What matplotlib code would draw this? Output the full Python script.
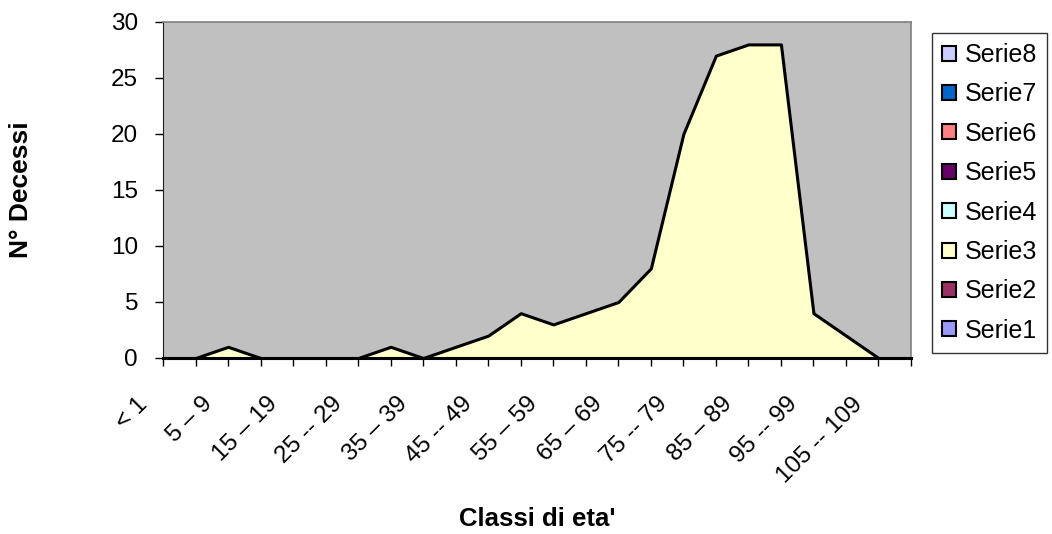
import matplotlib
matplotlib.use("Agg")
import matplotlib.pyplot as plt
import matplotlib.transforms as mtransforms
from matplotlib.patches import Patch
import numpy as np

# age classes (one point per class) and number of deaths for Serie3
classi = ['< 1', '1 -- 4', '5 \u2013 9', '10 -- 14', '15 \u2013 19', '20 -- 24',
          '25 -- 29', '30 -- 34', '35 \u2013 39', '40 -- 44', '45 -- 49',
          '50 -- 54', '55 \u2013 59', '60 -- 64', '65 \u2013 69', '70 -- 74',
          '75 -- 79', '80 -- 84', '85 \u2013 89', '90 -- 94', '95 -- 99',
          '100 -- 104', '105 -- 109', '110 +']
serie3 = [0, 0, 1, 0, 0, 0, 0, 1, 0, 1, 2, 4, 3, 4, 5, 8, 20, 27, 28, 28,
          4, 2, 0, 0]

serie_names = ['Serie8', 'Serie7', 'Serie6', 'Serie5', 'Serie4', 'Serie3',
               'Serie2', 'Serie1']
serie_colors = ['#CCCCFF', '#0066CC', '#FF8080', '#660066', '#CCFFFF',
                '#FFFFCC', '#993366', '#9999FF']

plt.rcParams['font.family'] = ['Liberation Sans', 'DejaVu Sans']

fig = plt.figure(figsize=(10.52, 5.34), dpi=100)
ax = fig.add_axes([163 / 1052, 1 - 358 / 534, 748 / 1052, 336 / 534])
ax.set_facecolor('#C0C0C0')

x = np.arange(len(classi))
ax.fill_between(x, 0, serie3, facecolor='#FFFFCC', edgecolor='black',
                linewidth=2.2, clip_on=False, zorder=3)

ax.set_xlim(0, len(classi) - 1)
ax.set_ylim(0, 30)
ax.set_yticks(range(0, 31, 5))
ax.set_xticks(x)
# only every other class gets a label
ax.set_xticklabels([lab if i % 2 == 0 else '' for i, lab in enumerate(classi)],
                   rotation=45, ha='right', va='center',
                   rotation_mode='anchor')

ax.tick_params(axis='both', direction='out', length=6, width=1,
               color='black', labelsize=17.5)
ax.tick_params(axis='x', pad=4)
ax.tick_params(axis='y', pad=12)

# move the rotated labels so their ends sit below-left of each tick
shift = mtransforms.ScaledTranslation(-19 / 100, -29 / 100, fig.dpi_scale_trans)
for lab in ax.get_xticklabels():
    lab.set_transform(lab.get_transform() + shift)

for side in ('top', 'right'):
    ax.spines[side].set_color('#808080')
    ax.spines[side].set_linewidth(1.2)
ax.spines['left'].set_color('#202020')
ax.spines['bottom'].set_color('black')

fig.text(537 / 1052, 1 - 519 / 534, "Classi di eta'", fontsize=18.5,
         fontweight='bold', ha='center', va='center')
fig.text(21 / 1052, 1 - 190 / 534, 'N\u00b0 Decessi', rotation=90,
         fontsize=19, fontweight='bold', ha='center', va='center')

handles = [Patch(facecolor=c, edgecolor='black', linewidth=1.5)
           for c in serie_colors]
leg = fig.legend(handles, serie_names, loc='upper left',
                 bbox_to_anchor=(932 / 1052, 1 - 33 / 534), fontsize=18,
                 frameon=True, fancybox=False, edgecolor='black',
                 handlelength=0.55, handleheight=0.55, handletextpad=0.35,
                 labelspacing=0.615, borderpad=0.4, borderaxespad=0)
leg.get_frame().set_linewidth(1.0)

fig.savefig('out.png', dpi=100, facecolor='white')
